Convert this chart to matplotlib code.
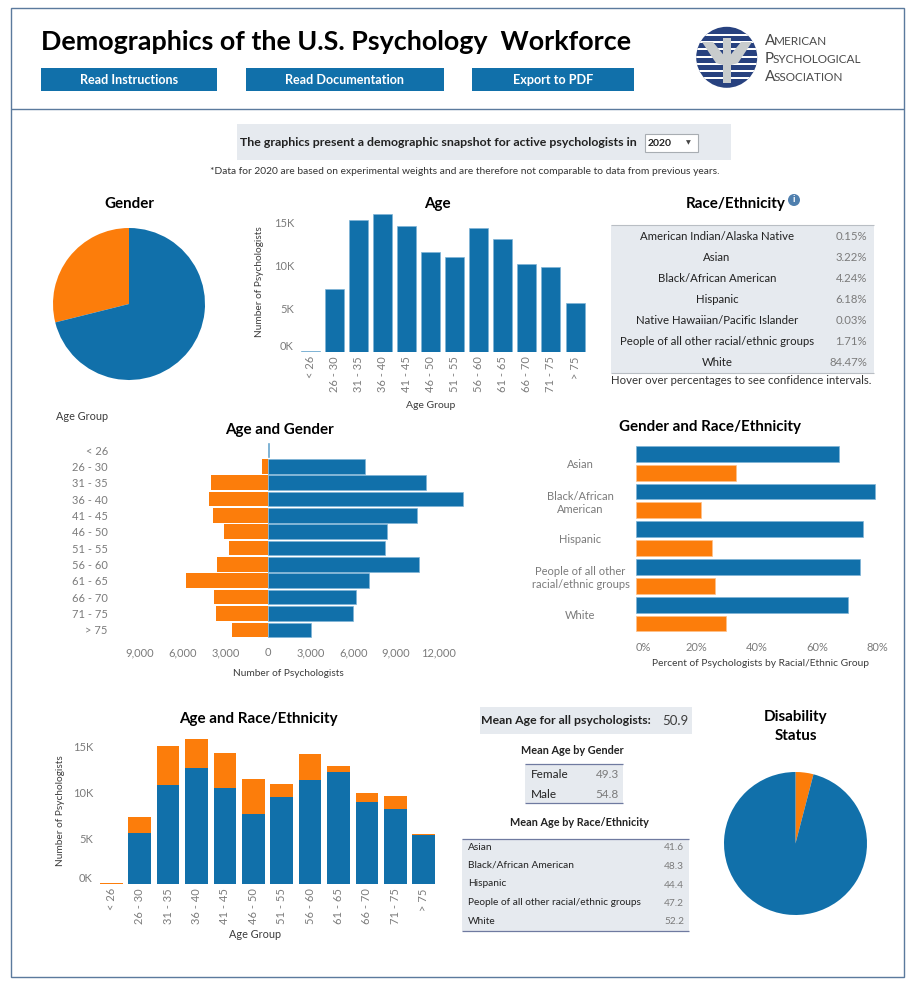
import matplotlib
matplotlib.use("Agg")
import matplotlib.pyplot as plt
from matplotlib.patches import Rectangle, Circle, Polygon

W, H = 912, 984
BLUE = "#1170aa"
ORANGE = "#fc7d0b"
BLUE_EDGE = "#7fb4d6"
ORANGE_EDGE = "#fdc08a"
PANEL = "#e6eaef"
GRAY = "#7b7b7b"
DARK = "#3c3c3c"
FRAME = "#5b7a9d"
NAVY = "#27417f"

plt.rcParams["font.family"] = ["Lato", "DejaVu Sans"]

# data
age_groups = ["< 26", "26 - 30", "31 - 35", "36 - 40", "41 - 45", "46 - 50",
              "51 - 55", "56 - 60", "61 - 65", "66 - 70", "71 - 75", "> 75"]
age_totals = [150, 7300, 15300, 16100, 14600, 11600, 11100, 14450, 13100, 10200, 9850, 5650]

gender_share = [28.9, 71.1]   # orange, blue
disability_share = [4.05, 95.95]

race_names = ["American Indian/Alaska Native", "Asian", "Black/African American", "Hispanic",
              "Native Hawaiian/Pacific Islander", "People of all other racial/ethnic groups", "White"]
race_pct = ["0.15%", "3.22%", "4.24%", "6.18%", "0.03%", "1.71%", "84.47%"]

pyramid_blue = [60, 6820, 11130, 13710, 10500, 8345, 8230, 10620, 7125, 6190, 6000, 3020]
pyramid_orange = [0, 400, 4010, 4150, 3870, 3095, 2720, 3610, 5790, 3820, 3680, 2555]

gr_groups = ["Asian", "Black/African\nAmerican", "Hispanic",
             "People of all other\nracial/ethnic groups", "White"]
gr_blue = [67.4, 79.1, 75.2, 74.4, 70.4]
gr_orange = [33.0, 21.5, 25.1, 26.2, 29.7]

ar_blue = [0, 5600, 10840, 12700, 10500, 7670, 9450, 11300, 12180, 8950, 8150, 5380]
ar_total = [150, 7270, 15100, 15850, 14300, 11400, 10900, 14200, 12900, 9960, 9640, 5490]
ar_orange = [t - b for t, b in zip(ar_total, ar_blue)]

mean_gender_names = ["Female", "Male"]
mean_gender_vals = ["49.3", "54.8"]
mean_race_names = ["Asian", "Black/African American", "Hispanic",
                   "People of all other racial/ethnic groups", "White"]
mean_race_vals = ["41.6", "48.3", "44.4", "47.2", "52.2"]

buttons = ["Read Instructions", "Read Documentation", "Export to PDF"]

fig = plt.figure(figsize=(W / 100, H / 100), dpi=100, facecolor="white")

# overlay in pixel coordinates for the page furniture
bg = fig.add_axes([0, 0, 1, 1])
bg.set_xlim(0, W)
bg.set_ylim(H, 0)
bg.axis("off")


def axes_px(x0, y0, x1, y1):
    a = fig.add_axes([x0 / W, 1 - y1 / H, (x1 - x0) / W, (y1 - y0) / H])
    a.patch.set_alpha(0)
    for s in a.spines.values():
        s.set_visible(False)
    return a


def txt(x, y, s, size=8, color=DARK, weight="normal", ha="center", **kw):
    return bg.text(x, y, s, fontsize=size, color=color, fontweight=weight, ha=ha, va="center", **kw)


def box(x0, y0, x1, y1, fc, ec="none", lw=0, z=1):
    bg.add_patch(Rectangle((x0, y0), x1 - x0, y1 - y0, facecolor=fc, edgecolor=ec, linewidth=lw, zorder=z))


def hline(x0, x1, y, color, lw=1):
    bg.plot([x0, x1], [y, y], color=color, lw=lw, solid_capstyle="butt")


# outer frame and header
box(11, 8, 904, 977, "none", FRAME, 1)
hline(11, 904, 109, FRAME, 1)
txt(41, 42, "Demographics of the U.S. Psychology  Workforce", 19.4, "black", "bold", ha="left")

btn_x = [(41, 217), (246, 444), (472, 634)]
for (x0, x1), label in zip(btn_x, buttons):
    box(x0, 68, x1, 91, BLUE)
    txt((x0 + x1) / 2, 79.5, label, 9.1, "white", "bold")

# logo
clip = Circle((726.7, 57.3), 30.5, transform=bg.transData)
disc = Circle((726.7, 57.3), 30.5, facecolor=NAVY, edgecolor="none", zorder=2)
bg.add_patch(disc)
for sy in [35, 42, 49, 56.5, 64, 71, 78]:
    stripe = Rectangle((695, sy - 1), 64, 2, facecolor="white", zorder=3)
    bg.add_patch(stripe)
    stripe.set_clip_path(clip)
psi = [[(723, 38), (731, 38), (731, 83), (723, 83)],
       [(702, 42), (713, 42), (726, 58), (726, 66), (716, 63)],
       [(752, 42), (741, 42), (728, 58), (728, 66), (738, 63)]]
for pts in psi:
    bg.add_patch(Polygon(pts, closed=True, facecolor="#c8cccd", edgecolor="none", zorder=4))
for yy, first, rest, gap in [(41, "A", "MERICAN", 9), (58.7, "P", "SYCHOLOGICAL", 8), (77, "A", "SSOCIATION", 9)]:
    txt(765, yy, first, 11, "#4a4a4a", ha="left")
    txt(765 + gap, yy + 0.8, rest, 8.5, "#4a4a4a", ha="left")

# year selector band
box(237, 124, 731, 160, PANEL)
txt(240, 142, "The graphics present a demographic snapshot for active psychologists in", 8.9, "#222222", "bold", ha="left")
box(645, 134, 698, 152, "white", "#a8adb2", 0.8, z=2)
txt(648, 143, "2020", 7.5, "#222222", "bold", ha="left", zorder=3)
txt(688, 143, "▼", 4.5, "#444444", family="DejaVu Sans", zorder=3)
txt(465, 172, "*Data for 2020 are based on experimental weights and are therefore not comparable to data from previous years.",
    7.4, "#333333")

TITLE = 10.9

# gender pie
txt(129, 204, "Gender", TITLE, "black", "bold")
ax = axes_px(53, 228, 205, 380)
ax.pie(gender_share, colors=[ORANGE, BLUE], startangle=90, radius=1)
ax.set_xlim(-1, 1)
ax.set_ylim(-1, 1)


def zero_k(a):
    labs = a.get_yticklabels()
    labs[0].set_va("bottom")


# age histogram
txt(437, 204, "Age", TITLE, "black", "bold")
ax = axes_px(298, 205, 588, 352)
ax.bar(range(12), age_totals, width=0.79, color=BLUE, edgecolor=BLUE_EDGE, linewidth=0.5)
ax.set_xlim(-0.52, 11.54)
ax.set_ylim(0, 17090)
ax.set_yticks([0, 5000, 10000, 15000], ["0K", "5K", "10K", "15K"])
ax.set_xticks(range(12), age_groups, rotation=90)
ax.tick_params(length=0, labelsize=8, labelcolor=GRAY, pad=3)
zero_k(ax)
txt(260, 282, "Number of Psychologists", 7.3, DARK, rotation=90)
txt(431, 405, "Age Group", 7.5, DARK)

# race table
txt(736, 204, "Race/Ethnicity", TITLE, "black", "bold")
bg.add_patch(Circle((794, 200), 6, facecolor="#4f7fae", edgecolor="none"))
txt(794, 200, "i", 7, "white", "bold", zorder=4)
box(611, 225, 874, 373, PANEL)
hline(611, 874, 225, "#b9bec4", 0.8)
hline(611, 874, 373, "#b9bec4", 0.8)
for i, (name, pct) in enumerate(zip(race_names, race_pct)):
    yy = 236 + i * 21.1
    txt(717, yy, name, 8.2, "#222222")
    txt(867, yy, pct, 8.2, GRAY, ha="right")
txt(611, 381, "Hover over percentages to see confidence intervals.", 8.2, "#333333", ha="left")

# age and gender pyramid
txt(82, 417, "Age Group", 7.8, DARK)
txt(279, 430, "Age and Gender", TITLE, "black", "bold")
ax = axes_px(112, 442, 466, 640)
ypos = list(range(12))
ax.barh(ypos, [-v for v in pyramid_orange], height=0.895, color=ORANGE, edgecolor="none")
ax.barh(ypos, pyramid_blue, height=0.895, color=BLUE, edgecolor=BLUE_EDGE, linewidth=0.5)
ax.set_xlim(-10969, 13922)
ax.set_ylim(11.62, -0.49)
ax.set_yticks(ypos, age_groups)
xt = [-9000, -6000, -3000, 0, 3000, 6000, 9000, 12000]
ax.set_xticks(xt, [f"{abs(v):,}" for v in xt])
ax.tick_params(length=0, labelsize=8, labelcolor=GRAY, pad=3)
ax.tick_params(axis="x", pad=5)
txt(288, 673, "Number of Psychologists", 7.3, DARK)

# gender and race bars
txt(710, 427, "Gender and Race/Ethnicity", TITLE, "black", "bold")
ax = axes_px(636, 444, 880, 634)
gpos = list(range(5))
ax.barh([g - 0.25 for g in gpos], gr_blue, height=0.42, color=BLUE, edgecolor=BLUE_EDGE, linewidth=0.5)
ax.barh([g + 0.25 for g in gpos], gr_orange, height=0.42, color=ORANGE, edgecolor=ORANGE_EDGE, linewidth=0.5)
ax.set_xlim(0, 80.9)
ax.set_ylim(4.53, -0.51)
ax.set_yticks(gpos, gr_groups)
ax.set_xticks([0, 20, 40, 60, 80], ["0%", "20%", "40%", "60%", "80%"])
ax.tick_params(length=0, labelsize=8, labelcolor=GRAY, pad=3)
ax.tick_params(axis="y", pad=40)
ax.tick_params(axis="x", pad=6)
for lab in ax.get_yticklabels():
    lab.set_ha("center")
    lab.set_multialignment("center")
ax.get_xticklabels()[0].set_ha("left")
txt(761, 663, "Percent of Psychologists by Racial/Ethnic Group", 7.35, DARK)

# age and race stacked
txt(258, 719, "Age and Race/Ethnicity", TITLE, "black", "bold")
ax = axes_px(97, 735, 436, 884)
ax.bar(range(12), ar_blue, width=0.8, color=BLUE, edgecolor="none")
ax.bar(range(12), ar_orange, bottom=ar_blue, width=0.8, color=ORANGE, edgecolor="none")
ax.set_xlim(-0.5, 11.43)
ax.set_ylim(0, 16250)
ax.set_yticks([0, 5000, 10000, 15000], ["0K", "5K", "10K", "15K"])
ax.set_xticks(range(12), age_groups, rotation=90)
ax.tick_params(length=0, labelsize=8, labelcolor=GRAY, pad=3)
zero_k(ax)
txt(61, 811, "Number of Psychologists", 7.3, DARK, rotation=90)
txt(255, 935, "Age Group", 7.8, DARK)

# mean age tables
box(480, 707, 692, 734, PANEL)
txt(481, 721, "Mean Age for all psychologists:", 8.8, "#222222", "bold", ha="left")
txt(689, 721, "50.9", 9.5, DARK, ha="right")
txt(572, 751, "Mean Age by Gender", 7.8, "#222222", "bold")
box(525, 764, 623, 803, PANEL)
hline(525, 623, 764, "#6f7aa0", 0.9)
hline(525, 623, 803, "#6f7aa0", 0.9)
for i, (n, v) in enumerate(zip(mean_gender_names, mean_gender_vals)):
    txt(531, 774 + i * 20, n, 8.5, "#222222", ha="left")
    txt(619, 774 + i * 20, v, 8.5, GRAY, ha="right")
txt(579, 823, "Mean Age by Race/Ethnicity", 7.8, "#222222", "bold")
box(462, 839, 689, 931, PANEL)
hline(462, 689, 839, "#6f7aa0", 0.9)
hline(462, 689, 931, "#6f7aa0", 0.9)
for i, (n, v) in enumerate(zip(mean_race_names, mean_race_vals)):
    txt(468, 847 + i * 18.5, n, 7.3, "#222222", ha="left")
    txt(684, 848 + i * 18.5, v, 7.3, GRAY, ha="right")

# disability pie
txt(796, 717, "Disability", TITLE, "black", "bold")
txt(796, 736, "Status", TITLE, "black", "bold")
ax = axes_px(724, 772, 867, 915)
ax.pie(disability_share, colors=[ORANGE, BLUE], startangle=90, counterclock=False, radius=1)
ax.set_xlim(-1, 1)
ax.set_ylim(-1, 1)

fig.savefig("out.png", dpi=100)
